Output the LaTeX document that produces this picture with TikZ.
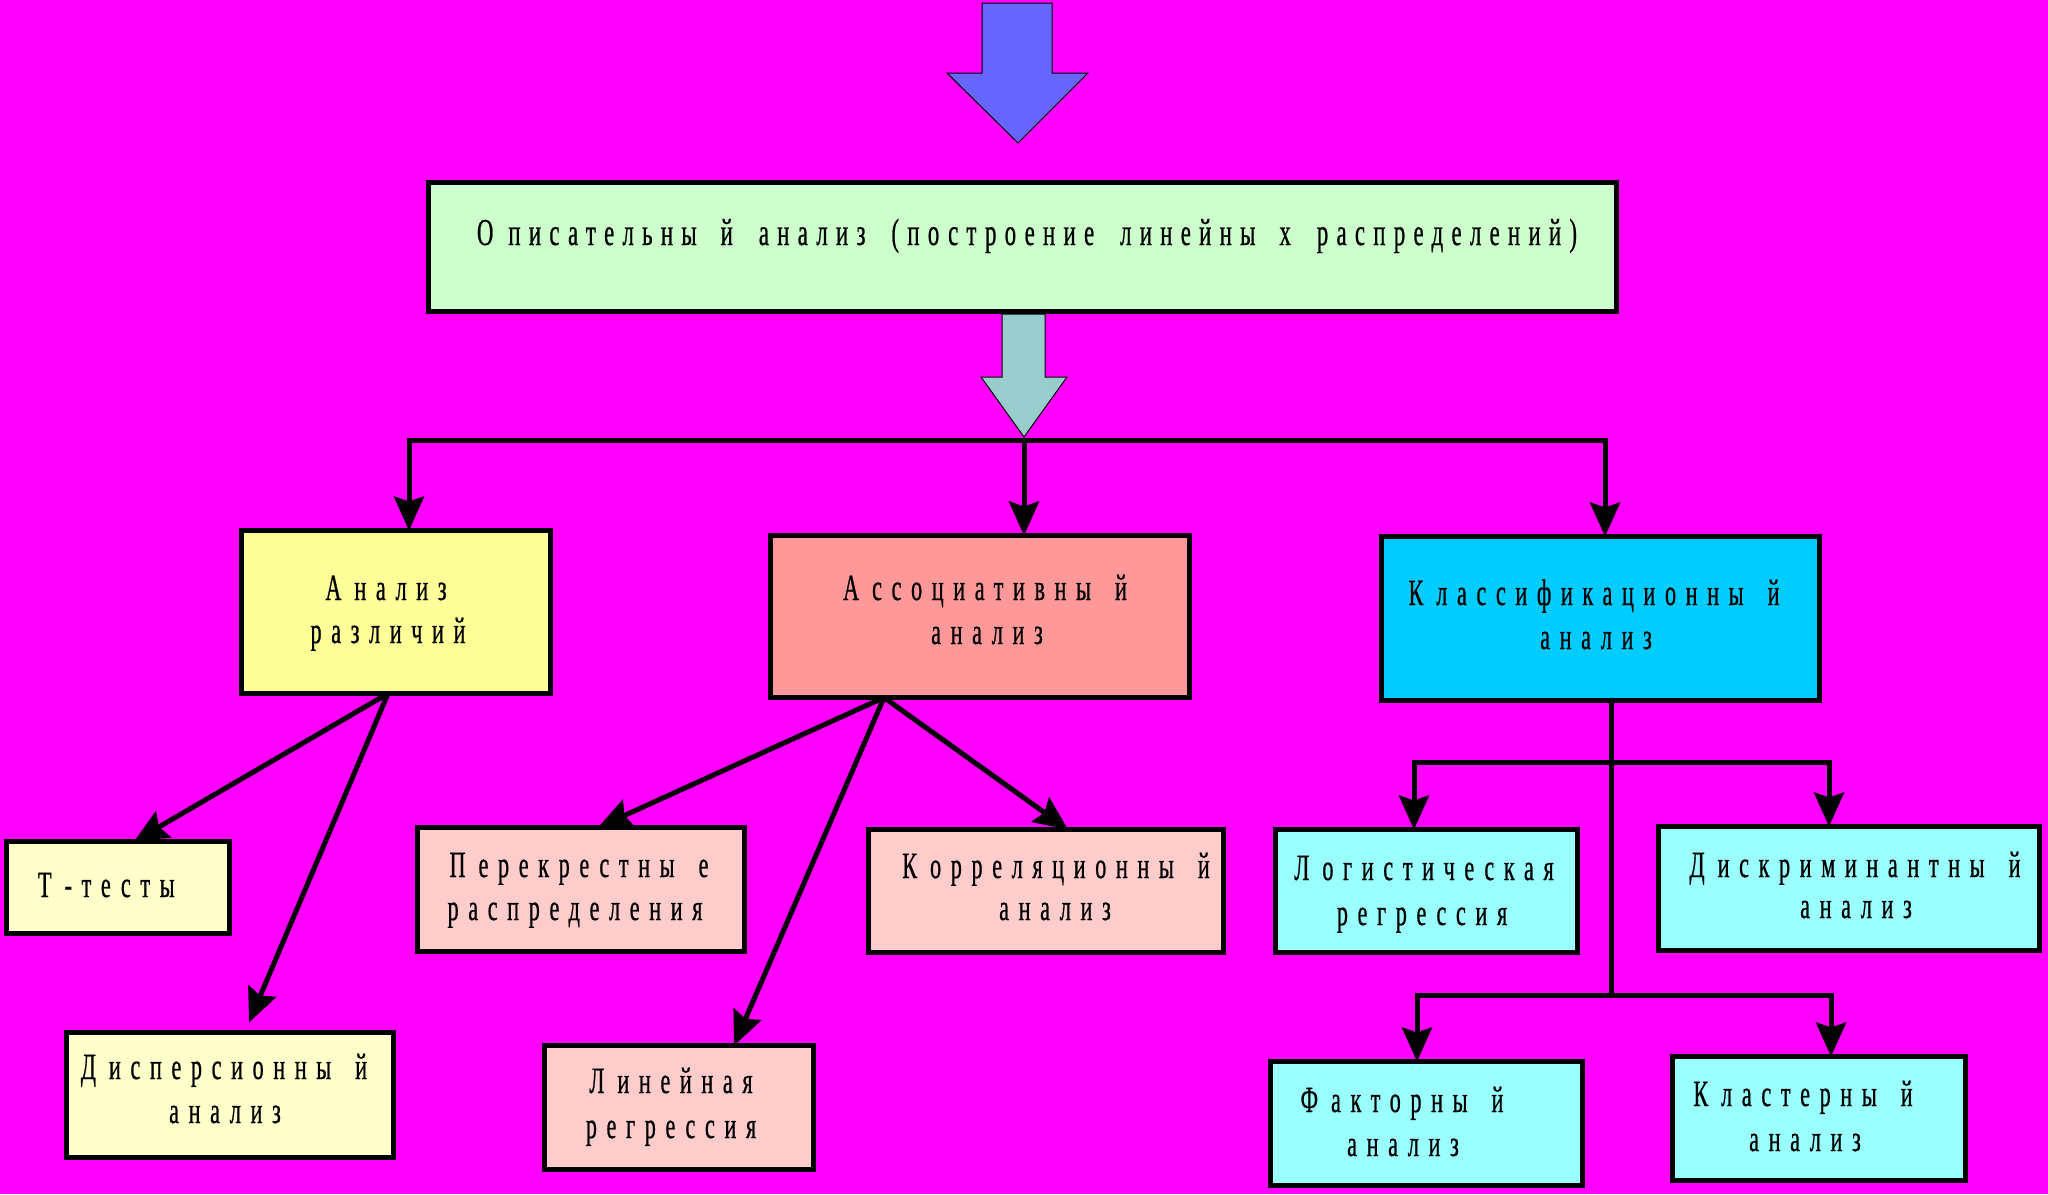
\documentclass[tikz,border=0pt]{standalone}
\usepackage{fontspec}
\usetikzlibrary{arrows.meta}
\newfontfamily\subf[FakeStretch=0.6,LetterSpace=26,FakeBold=0.6]{Liberation Serif}
\newfontfamily\descf[FakeStretch=0.6,LetterSpace=21.8,FakeBold=0.6]{Liberation Serif}
\newcommand\subfont{\subf\fontsize{37}{44}\selectfont}
\newcommand\descfont{\descf\fontsize{38}{44}\selectfont}
\newcommand\Cg{\hspace{13pt}}
\newcommand\Yg{\hspace{24pt}}
\newcommand\Ws{\hspace{12pt}}
\definecolor{bgmag}{HTML}{FF00FF}
\definecolor{cBlueArr}{HTML}{6666FF}
\definecolor{cTealArr}{HTML}{99CCCC}
\definecolor{cGreen}{HTML}{CCFFCC}
\definecolor{cYel}{HTML}{FFFF99}
\definecolor{cYelL}{HTML}{FFFFCC}
\definecolor{cRed}{HTML}{FF9999}
\definecolor{cRedL}{HTML}{FFCCCC}
\definecolor{cCyan}{HTML}{00CCFF}
\definecolor{cCyanL}{HTML}{99FFFF}
\tikzset{
  box/.style={draw=black, line width=5pt, inner sep=0pt, outer sep=0pt},
  lbl/.style={inner sep=0pt, outer sep=0pt, anchor=base, text=black, font=\subfont},
  dlbl/.style={inner sep=0pt, outer sep=0pt, anchor=base, text=black, font=\descfont},
  arr/.style={line width=5pt, draw=black, -{Stealth[length=34pt,width=30pt,inset=5pt]}},
  link/.style={line width=5pt, draw=black},
  blockarrow/.style={draw=black, line width=1pt, line join=miter}
}
\begin{document}
\begin{tikzpicture}[x=1pt,y=-1pt]
\fill[bgmag] (0,0) rectangle (2048,1194);
\useasboundingbox (0,0) rectangle (2048,1194);

% block arrows
\filldraw[blockarrow, fill=cBlueArr] (982,3) -- (1052,3) -- (1052,73) -- (1088,73) -- (1018,143) -- (947,73) -- (982,73) -- cycle;
\filldraw[blockarrow, fill=cTealArr] (1002,314) -- (1045,314) -- (1045,377) -- (1067,377) -- (1024,437) -- (981,377) -- (1002,377) -- cycle;

% boxes
\node[box, fill=cGreen, minimum width=1188pt, minimum height=129pt] (desc) at (1022.5,247) {};
\node[box, fill=cYel, minimum width=309pt, minimum height=163pt] (razl) at (396,612) {};
\node[box, fill=cRed, minimum width=419pt, minimum height=162pt] (assoc) at (980,616.5) {};
\node[box, fill=cCyan, minimum width=438pt, minimum height=164pt] (klass) at (1600.5,618.5) {};
\node[box, fill=cYelL, minimum width=223pt, minimum height=92pt] (ttest) at (118,887.5) {};
\node[box, fill=cYelL, minimum width=327pt, minimum height=125pt] (disp) at (230,1095) {};
\node[box, fill=cRedL, minimum width=327pt, minimum height=124pt] (perek) at (581,889.5) {};
\node[box, fill=cRedL, minimum width=269pt, minimum height=124pt] (lin) at (679,1107.5) {};
\node[box, fill=cRedL, minimum width=355pt, minimum height=123pt] (korr) at (1046,891) {};
\node[box, fill=cCyanL, minimum width=302pt, minimum height=123pt] (logist) at (1426.5,891) {};
\node[box, fill=cCyanL, minimum width=381pt, minimum height=124pt] (diskr) at (1849,888.5) {};
\node[box, fill=cCyanL, minimum width=312pt, minimum height=124pt] (fakt) at (1426.5,1123.5) {};
\node[box, fill=cCyanL, minimum width=293pt, minimum height=124pt] (klast) at (1819,1118.5) {};

% labels
\node[dlbl] (desc-t) at (1027,245) {О\hspace{15pt}писательны\Yg й \Ws анализ \Ws(построение \Ws линейны\Yg х \Ws распределений)};
\node[lbl] (razl-a) at (386,600) {А\Cg нализ};
\node[lbl] (razl-b) at (388,643) {различий};
\node[lbl] (assoc-a) at (985,600) {А\Cg ссоциативны\Yg й};
\node[lbl] (assoc-b) at (987,644) {анализ};
\node[lbl] (klass-a) at (1594,605) {К\Cg лассификационны\Yg й};
\node[lbl] (klass-b) at (1596,649) {анализ};
\node[lbl, anchor=base west] (ttest-t) at (38,897) {Т\Cg -тесты};
\node[lbl] (disp-a) at (224,1079) {Д\Cg исперсионны\Yg й};
\node[lbl] (disp-b) at (225,1123) {анализ};
\node[lbl] (perek-a) at (579,877) {П\Cg ерекрестны\Yg е};
\node[lbl] (perek-b) at (575,920) {распределения};
\node[lbl] (korr-a) at (1056,878) {К\Cg орреляционны\Yg й};
\node[lbl] (korr-b) at (1055,920) {анализ};
\node[lbl] (lin-a) at (671,1093) {Л\Cg инейная};
\node[lbl] (lin-b) at (671,1138) {регрессия};
\node[lbl] (logist-a) at (1424,880) {Л\Cg огистическая};
\node[lbl] (logist-b) at (1422,925) {регрессия};
\node[lbl] (diskr-a) at (1855,877) {Д\Cg искриминантны\Yg й};
\node[lbl] (diskr-b) at (1856,918) {анализ};
\node[lbl] (fakt-a) at (1402,1112) {Ф\Cg акторны\Yg й};
\node[lbl] (fakt-b) at (1403,1156) {анализ};
\node[lbl] (klast-a) at (1803,1106) {К\Cg ластерны\Yg й};
\node[lbl] (klast-b) at (1805,1151) {анализ};

% top tree
\coordinate (bar) at (1024,440);
\draw[arr] (bar) -| ([xshift=13pt]razl.north);
\draw[arr] (bar) -- ([xshift=44pt]assoc.north);
\draw[arr] (bar) -| ([xshift=4.5pt]klass.north);

% diagonal arrows
\draw[arr] ([xshift=-8pt]razl.south) -- ([xshift=16pt]ttest.north);
\draw[arr] ([xshift=-8pt]razl.south) -- ([xshift=19pt,yshift=10pt]disp.north);
\draw[arr] ([xshift=-96pt]assoc.south) -- ([xshift=17pt]perek.north);
\draw[arr] ([xshift=-96pt]assoc.south) -- ([xshift=55pt]lin.north);
\draw[arr] ([xshift=-96pt]assoc.south) -- ([xshift=22pt]korr.north);

% classification tree
\coordinate (k1) at (1611,762);
\coordinate (k2) at (1611,995);
\draw[link] ([xshift=10.5pt]klass.south) -- (k2);
\draw[arr] (k1) -| ([xshift=-12.5pt]logist.north);
\draw[arr] (k1) -| ([xshift=-20pt]diskr.north);
\draw[arr] (k2) -| ([xshift=-9.5pt]fakt.north);
\draw[arr] (k2) -| ([xshift=12pt]klast.north);
\end{tikzpicture}
\end{document}
